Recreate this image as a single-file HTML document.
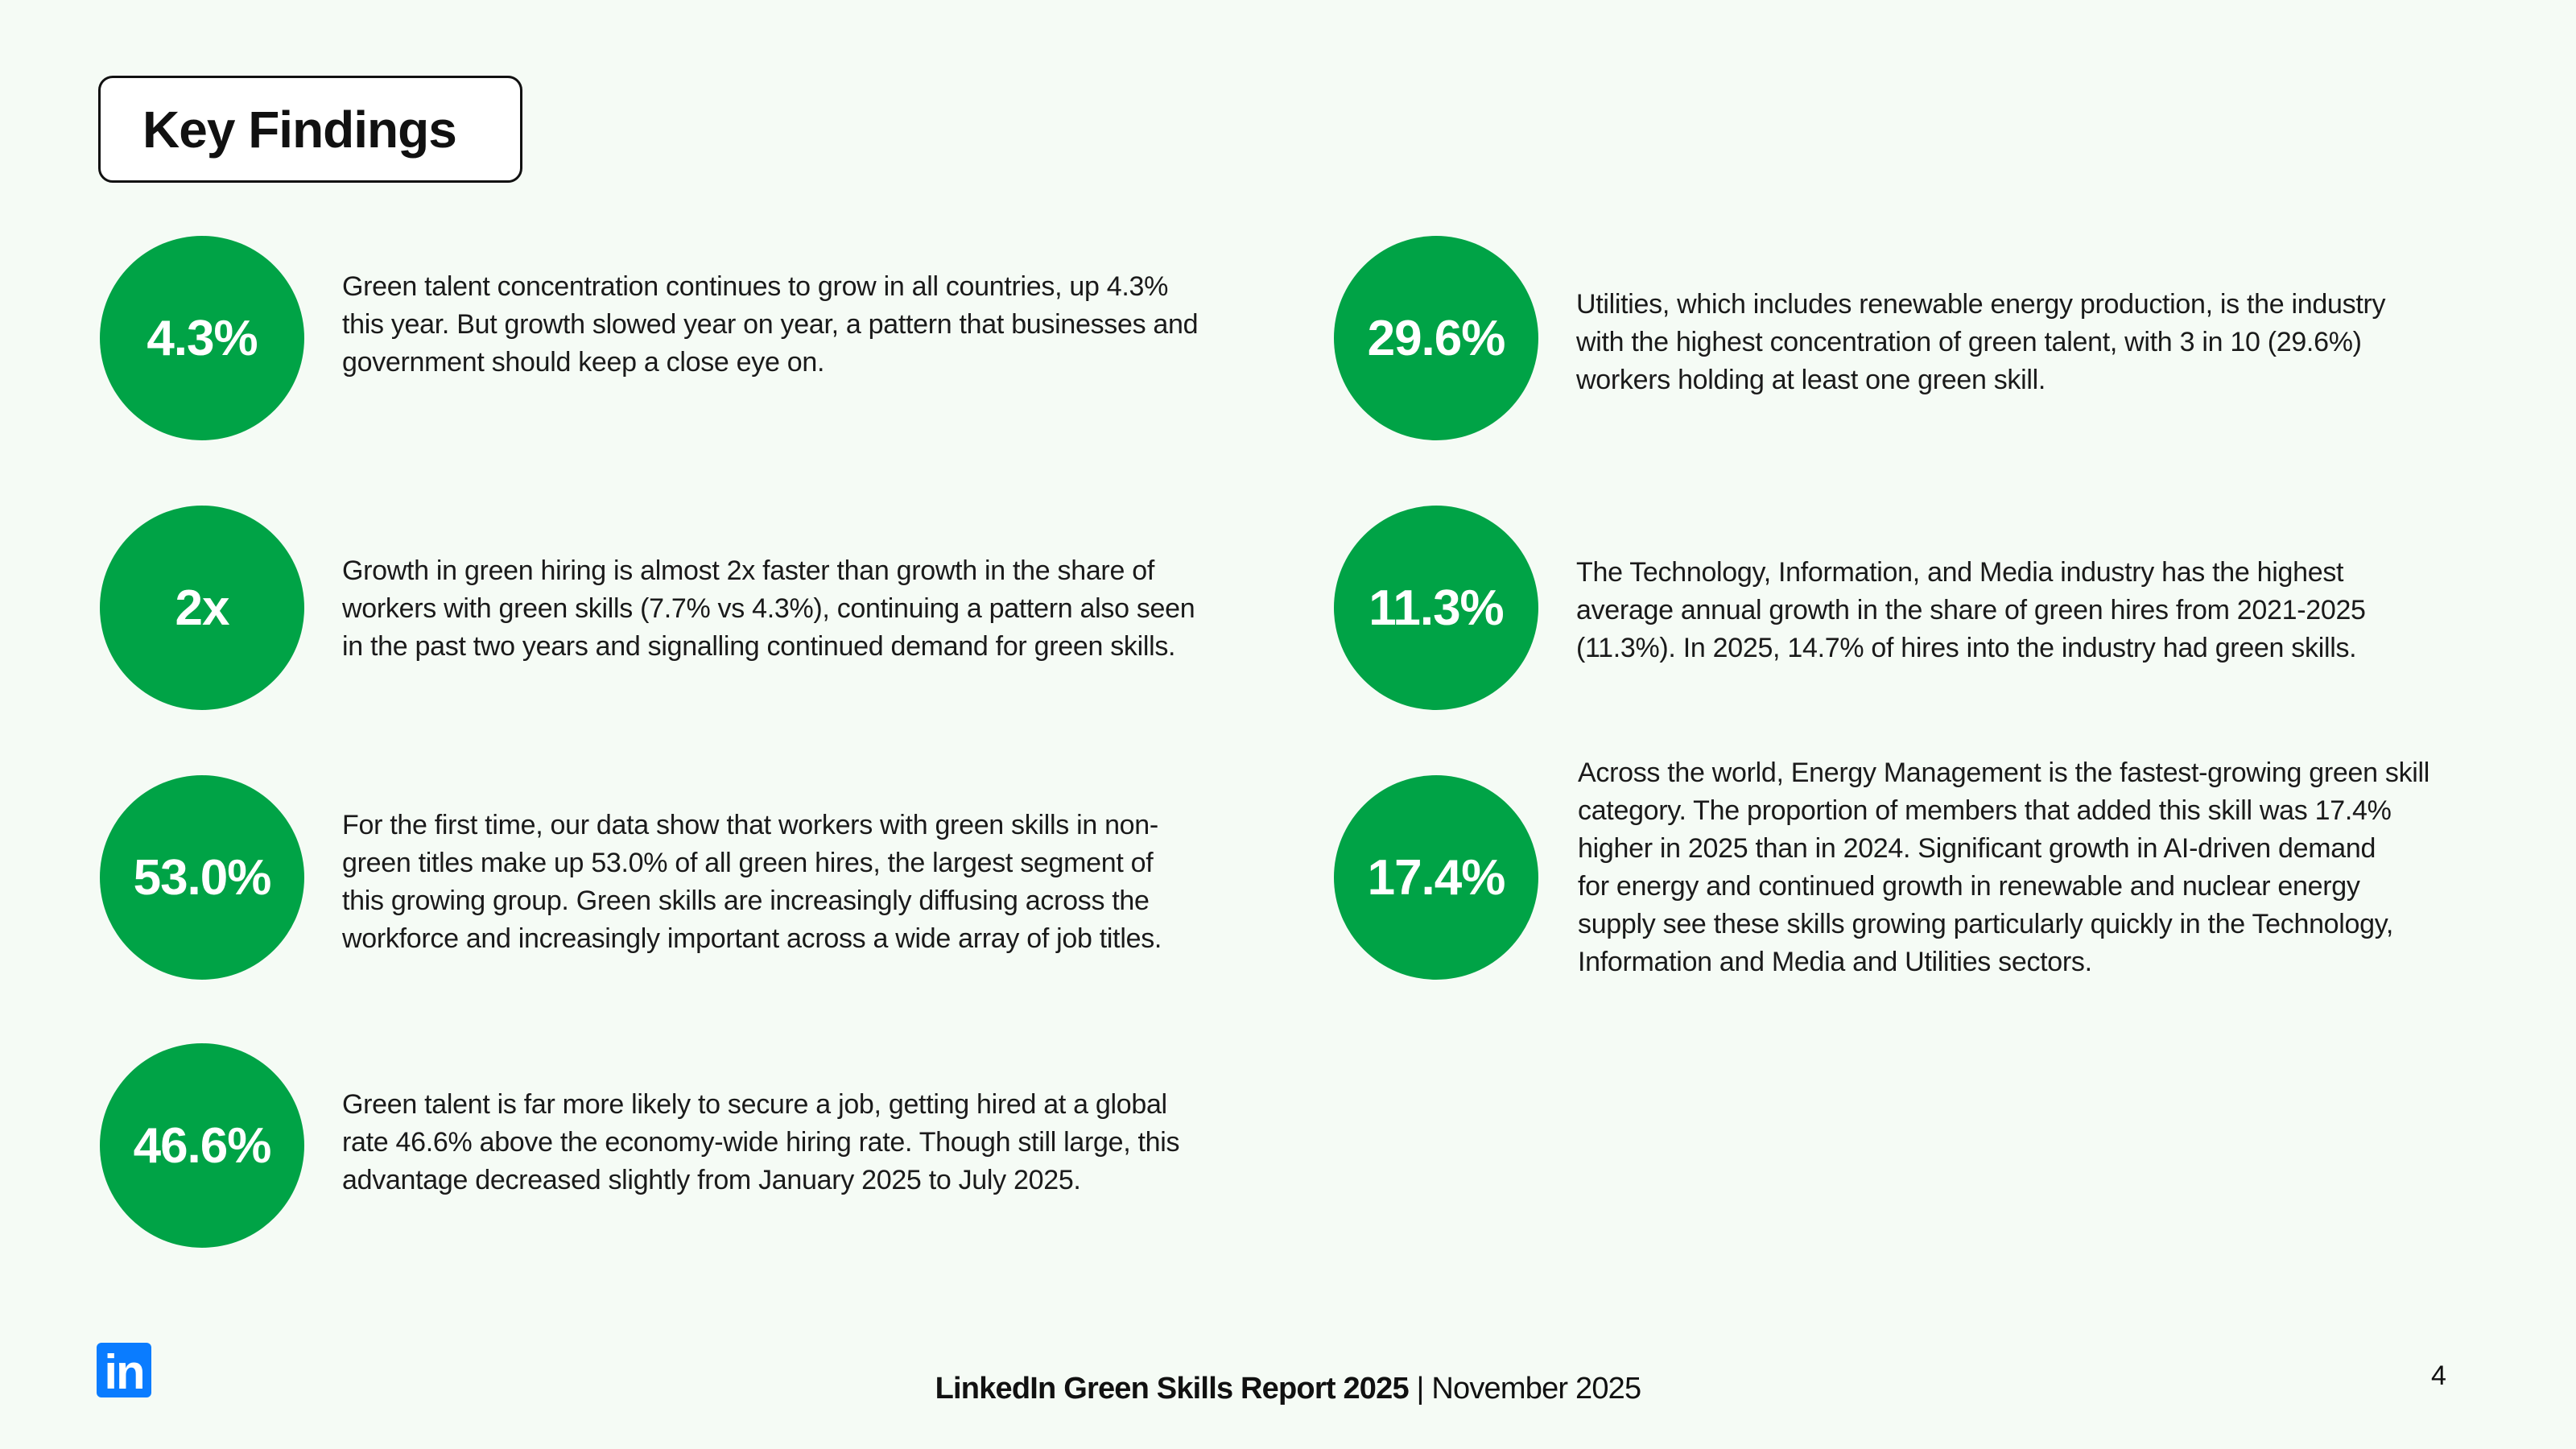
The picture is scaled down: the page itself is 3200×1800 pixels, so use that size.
<!DOCTYPE html>
<html><head><meta charset="utf-8"><style>
html,body{margin:0;padding:0}
body{width:3200px;height:1800px;background:#f5fbf5;position:relative;overflow:hidden;font-family:"Liberation Sans",sans-serif;color:#111}
.title{position:absolute;left:122px;top:94px;width:527px;height:133px;border:3px solid #111;border-radius:18px;box-sizing:border-box;background:#fff;font-weight:bold;font-size:64px;line-height:129px;padding-left:52px;letter-spacing:-1px}
.c{position:absolute;width:254px;height:254px;border-radius:50%;background:#00a346;color:#fff;font-weight:bold;font-size:62px;display:flex;align-items:center;justify-content:center;letter-spacing:-1px}
.t{position:absolute;font-size:34px;line-height:47px;letter-spacing:-0.3px;white-space:nowrap;color:#1a1a1a}
.logo{position:absolute;left:120px;top:1668px;width:68px;height:68px;background:#0a7cff;border-radius:6px;color:#fff;font-weight:bold;font-size:60px;line-height:74px;text-align:center;letter-spacing:-2px}
.foot{position:absolute;left:0;width:3200px;text-align:center;top:1704px;font-size:38px;letter-spacing:-0.8px}
.pg{position:absolute;left:3020px;top:1690px;font-size:34px}
</style></head><body>
<div class="title">Key Findings</div>

<div class="c" style="left:124px;top:293px">4.3%</div>
<div class="c" style="left:124px;top:628px">2x</div>
<div class="c" style="left:124px;top:963px">53.0%</div>
<div class="c" style="left:124px;top:1296px">46.6%</div>
<div class="c" style="left:1657px;top:293px">29.6%</div>
<div class="c" style="left:1657px;top:628px">11.3%</div>
<div class="c" style="left:1657px;top:963px">17.4%</div>

<div class="t" style="left:425px;top:333px">Green talent concentration continues to grow in all countries, up 4.3%<br>this year. But growth slowed year on year, a pattern that businesses and<br>government should keep a close eye on.</div>
<div class="t" style="left:425px;top:686px">Growth in green hiring is almost 2x faster than growth in the share of<br>workers with green skills (7.7% vs 4.3%), continuing a pattern also seen<br>in the past two years and signalling continued demand for green skills.</div>
<div class="t" style="left:425px;top:1002px">For the first time, our data show that workers with green skills in non-<br>green titles make up 53.0% of all green hires, the largest segment of<br>this growing group. Green skills are increasingly diffusing across the<br>workforce and increasingly important across a wide array of job titles.</div>
<div class="t" style="left:425px;top:1349px">Green talent is far more likely to secure a job, getting hired at a global<br>rate 46.6% above the economy-wide hiring rate. Though still large, this<br>advantage decreased slightly from January 2025 to July 2025.</div>

<div class="t" style="left:1958px;top:355px">Utilities, which includes renewable energy production, is the industry<br>with the highest concentration of green talent, with 3 in 10 (29.6%)<br>workers holding at least one green skill.</div>
<div class="t" style="left:1958px;top:688px">The Technology, Information, and Media industry has the highest<br>average annual growth in the share of green hires from 2021-2025<br>(11.3%). In 2025, 14.7% of hires into the industry had green skills.</div>
<div class="t" style="left:1960px;top:937px">Across the world, Energy Management is the fastest-growing green skill<br>category. The proportion of members that added this skill was 17.4%<br>higher in 2025 than in 2024. Significant growth in AI-driven demand<br>for energy and continued growth in renewable and nuclear energy<br>supply see these skills growing particularly quickly in the Technology,<br>Information and Media and Utilities sectors.</div>

<div class="logo">in</div>
<div class="foot"><b>LinkedIn Green Skills Report 2025</b> | November 2025</div>
<div class="pg">4</div>
</body></html>
